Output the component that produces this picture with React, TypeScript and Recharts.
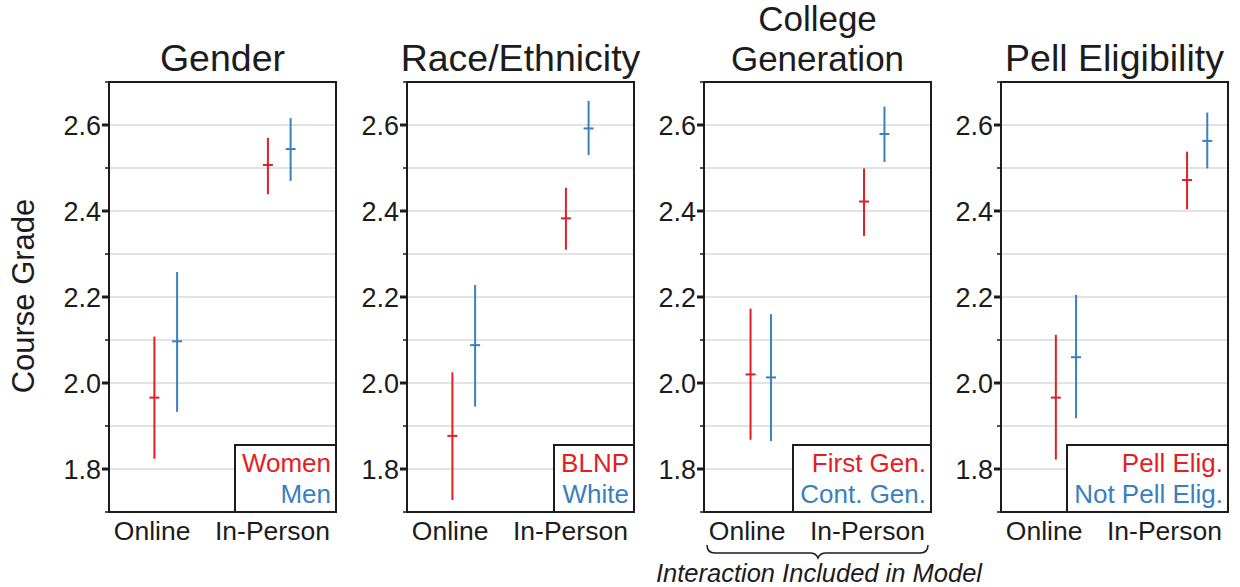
import {
  ComposedChart,
  Scatter,
  ErrorBar,
  XAxis,
  YAxis,
  CartesianGrid,
  ReferenceArea,
  Legend,
} from "recharts";

const GROUPS = ["Online", "In-Person"];
const Y_TICKS = [1.7, 1.8, 1.9, 2.0, 2.1, 2.2, 2.3, 2.4, 2.5, 2.6, 2.7];
const Y_LABELED = [1.8, 2.0, 2.2, 2.4, 2.6];

// Gender
const genderNames = ["Women", "Men"];
const genderRedMean = [1.966, 2.507];
const genderRedLow = [1.824, 2.439];
const genderRedHigh = [2.108, 2.57];
const genderBlueMean = [2.097, 2.544];
const genderBlueLow = [1.933, 2.47];
const genderBlueHigh = [2.258, 2.616];

// Race/Ethnicity
const raceNames = ["BLNP", "White"];
const raceRedMean = [1.877, 2.383];
const raceRedLow = [1.728, 2.31];
const raceRedHigh = [2.025, 2.454];
const raceBlueMean = [2.088, 2.592];
const raceBlueLow = [1.945, 2.53];
const raceBlueHigh = [2.228, 2.656];

// College generation
const genNames = ["First Gen.", "Cont. Gen."];
const genRedMean = [2.02, 2.422];
const genRedLow = [1.868, 2.342];
const genRedHigh = [2.173, 2.499];
const genBlueMean = [2.013, 2.579];
const genBlueLow = [1.865, 2.514];
const genBlueHigh = [2.16, 2.643];

// Pell eligibility
const pellNames = ["Pell Elig.", "Not Pell Elig."];
const pellRedMean = [1.966, 2.472];
const pellRedLow = [1.822, 2.404];
const pellRedHigh = [2.112, 2.538];
const pellBlueMean = [2.06, 2.563];
const pellBlueLow = [1.918, 2.499];
const pellBlueHigh = [2.205, 2.629];

const RED = "#e31e25";
const BLUE = "#3a7fc0";
const INK = "#1c1c1c";
const FONT = "'Liberation Sans', Arial, sans-serif";

const PLOT_W = 227;
const PLOT_TOP = 82;
const PLOT_H = 430;
const AXIS_W = 70;
const LABEL_FRAC = [0.19, 0.72];

function rows(mean: number[], low: number[], high: number[], dodge: number) {
  return mean.map((m, i) => ({
    x: i + dodge,
    y: m,
    err: [m - low[i], high[i] - m],
  }));
}

const panels = [
  {
    title: ["Gender"],
    names: genderNames,
    left: 109,
    domain: [-0.5, 1.5],
    red: rows(genderRedMean, genderRedLow, genderRedHigh, -0.1),
    blue: rows(genderBlueMean, genderBlueLow, genderBlueHigh, 0.1),
  },
  {
    title: ["Race/Ethnicity"],
    names: raceNames,
    left: 407,
    domain: [-0.5, 1.5],
    red: rows(raceRedMean, raceRedLow, raceRedHigh, -0.1),
    blue: rows(raceBlueMean, raceBlueLow, raceBlueHigh, 0.1),
  },
  {
    title: ["College", "Generation"],
    names: genNames,
    left: 704,
    domain: [-0.5, 1.5],
    red: rows(genRedMean, genRedLow, genRedHigh, -0.09),
    blue: rows(genBlueMean, genBlueLow, genBlueHigh, 0.09),
  },
  {
    title: ["Pell Eligibility"],
    names: pellNames,
    left: 1001,
    domain: [-0.495, 1.235],
    red: rows(pellRedMean, pellRedLow, pellRedHigh, -0.077),
    blue: rows(pellBlueMean, pellBlueLow, pellBlueHigh, 0.077),
  },
];

const meanMark = (color: string) => (props: any) => {
  const { cx, cy } = props;
  return <line x1={cx - 5} x2={cx + 5} y1={cy} y2={cy} stroke={color} strokeWidth={2} />;
};

const YTick = (props: any) => {
  const { x, y, payload } = props;
  const major = Y_LABELED.some((v) => Math.abs(v - payload.value) < 1e-6);
  return (
    <g>
      <line
        x1={x - (major ? 7 : 4)}
        x2={x}
        y1={y}
        y2={y}
        stroke={INK}
        strokeWidth={major ? 3 : 1.5}
      />
      {major && (
        <text x={x - 8} y={y} dy="0.36em" textAnchor="end" fontSize={27} fill={INK} fontFamily={FONT}>
          {payload.value.toFixed(1)}
        </text>
      )}
    </g>
  );
};

const makeXTick = (domain: number[]) => (props: any) => {
  const { x, y, payload, index } = props;
  const frac = (payload.value - domain[0]) / (domain[1] - domain[0]);
  const dx = (LABEL_FRAC[index] - frac) * PLOT_W;
  return (
    <text x={x + dx} y={y + 28} textAnchor="middle" fontSize={26.5} fill={INK} fontFamily={FONT}>
      {GROUPS[payload.value]}
    </text>
  );
};

function Panel({ p }: { p: (typeof panels)[number] }) {
  return (
    <div style={{ position: "absolute", left: p.left - AXIS_W, top: 0 }}>
      <ComposedChart
        width={AXIS_W + PLOT_W + 4}
        height={587}
        margin={{ top: PLOT_TOP, right: 4, bottom: 587 - PLOT_TOP - PLOT_H - 40, left: 0 }}
      >
        <CartesianGrid vertical={false} stroke="#dadada" strokeWidth={1.5} />
        <XAxis
          dataKey="x"
          type="number"
          domain={p.domain}
          ticks={[0, 1]}
          height={40}
          axisLine={false}
          tickLine={false}
          tickSize={0}
          tickMargin={0}
          tick={makeXTick(p.domain)}
          allowDataOverflow
        />
        <YAxis
          dataKey="y"
          type="number"
          domain={[1.7, 2.7]}
          ticks={Y_TICKS}
          width={AXIS_W}
          axisLine={false}
          tickLine={false}
          tickSize={0}
          tickMargin={0}
          tick={<YTick />}
          interval={0}
          allowDataOverflow
        />
        <ReferenceArea
          x1={p.domain[0]}
          x2={p.domain[1]}
          y1={1.7}
          y2={2.7}
          fill="none"
          fillOpacity={0}
          stroke={INK}
          strokeWidth={2}
          ifOverflow="visible"
        />
        <Scatter data={p.red} dataKey="y" shape={meanMark(RED)} isAnimationActive={false}>
          <ErrorBar dataKey="err" direction="y" width={0} stroke={RED} strokeWidth={2} />
        </Scatter>
        <Scatter data={p.blue} dataKey="y" shape={meanMark(BLUE)} isAnimationActive={false}>
          <ErrorBar dataKey="err" direction="y" width={0} stroke={BLUE} strokeWidth={2} />
        </Scatter>
        <Legend
          layout="horizontal"
          verticalAlign="middle"
          align="center"
          wrapperStyle={{ left: "auto", right: 3, top: 444, bottom: "auto", width: "auto", height: "auto" }}
          content={() => (
            <div
              style={{
                boxSizing: "border-box",
                height: 69,
                border: `2px solid ${INK}`,
                background: "#fff",
                padding: "2px 4px 0 6px",
                textAlign: "right",
                fontFamily: FONT,
                fontSize: 26,
                lineHeight: "31px",
                whiteSpace: "nowrap",
              }}
            >
              <div style={{ color: RED }}>{p.names[0]}</div>
              <div style={{ color: BLUE }}>{p.names[1]}</div>
            </div>
          )}
        />
      </ComposedChart>
    </div>
  );
}

export default function App() {
  return (
    <div
      style={{
        position: "absolute",
        left: 0,
        top: 0,
        width: 1240,
        height: 587,
        background: "#fff",
        fontFamily: FONT,
        overflow: "hidden",
      }}
    >
      {panels.map((p, i) => (
        <Panel key={i} p={p} />
      ))}
      <svg
        width={1240}
        height={587}
        style={{ position: "absolute", left: 0, top: 0, pointerEvents: "none" }}
      >
        {/* two-line title gets a slightly smaller font so its lines don't collide */}
        {panels.map((p, i) => {
          const multi = p.title.length > 1;
          const step = 40.5;
          return (
            <text
              key={i}
              x={p.left + PLOT_W / 2}
              y={71 - (p.title.length - 1) * step}
              textAnchor="middle"
              fontSize={multi ? 35 : 37.5}
              fill={INK}
              fontFamily={FONT}
            >
              {p.title.map((line, j) => (
                <tspan key={j} x={p.left + PLOT_W / 2} dy={j === 0 ? 0 : step}>
                  {line}
                </tspan>
              ))}
            </text>
          );
        })}
        <text
          transform="translate(34,296) rotate(-90)"
          textAnchor="middle"
          fontSize={31}
          fill={INK}
          fontFamily={FONT}
        >
          Course Grade
        </text>
        <path
          d="M707,545 Q707,553 715,553 L810,553 Q816,553 818,558 Q820,553 826,553 L920,553 Q928,553 928,545"
          fill="none"
          stroke={INK}
          strokeWidth={1.5}
        />
        <text
          x={819}
          y={582}
          textAnchor="middle"
          fontSize={25.5}
          fontStyle="italic"
          fill={INK}
          fontFamily={FONT}
        >
          Interaction Included in Model
        </text>
      </svg>
    </div>
  );
}
